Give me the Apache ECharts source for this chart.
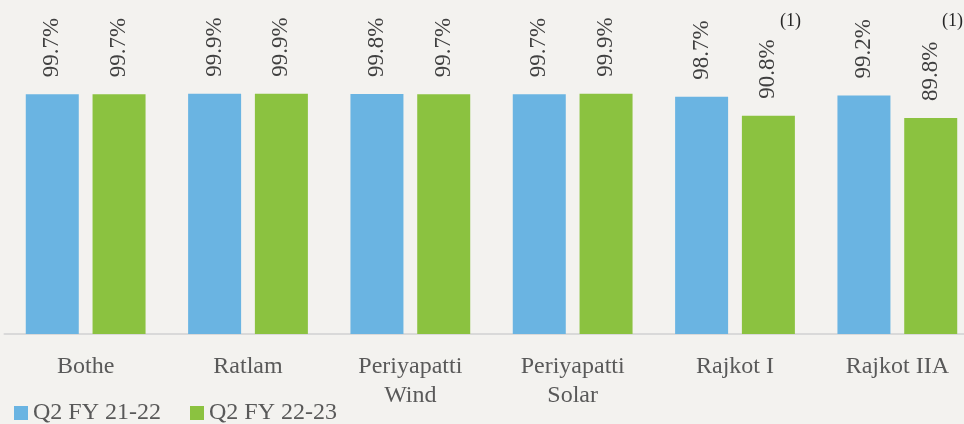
<!DOCTYPE html>
<html><head><meta charset="utf-8">
<script src="https://cdn.jsdelivr.net/npm/echarts@6/dist/echarts.min.js"></script>
<style>html,body{margin:0;padding:0;background:#f3f2ef;}#c{width:964px;height:424px;}</style>
</head><body><div id="c"></div>
<script>
const categories = ['Bothe', 'Ratlam', 'Periyapatti\nWind', 'Periyapatti\nSolar', 'Rajkot I', 'Rajkot IIA'];
const seriesNames = ['Q2 FY 21-22', 'Q2 FY 22-23'];
const q2fy2122 = [99.7, 99.9, 99.8, 99.7, 98.7, 99.2];
const q2fy2223 = [99.7, 99.9, 99.7, 99.9, 90.8, 89.8];
const footnote = '(1)';

const font = '"Liberation Serif", "DejaVu Serif", serif';
const chart = echarts.init(document.getElementById('c'), null, {renderer: 'canvas'});
const labelCfg = {
  show: true, position: 'top', rotate: 90, align: 'left', verticalAlign: 'middle',
  distance: 17, fontFamily: font, fontSize: 23, color: '#404040',
  formatter: p => p.value.toFixed(1) + '%'
};
chart.setOption({
  backgroundColor: '#f3f2ef',
  animation: false,
  grid: {left: 4.5, width: 974, top: 93.6, height: 240.4, containLabel: false, outerBoundsMode: 'none'},
  legend: {
    left: 14, top: 401, padding: 0, itemWidth: 14, itemHeight: 14, itemGap: 29,
    icon: 'rect', data: seriesNames,
    textStyle: {fontFamily: font, fontSize: 24, color: '#595959'}
  },
  xAxis: {
    type: 'category', data: categories,
    axisLine: {show: true, lineStyle: {color: '#d9d9d9', width: 2}},
    axisTick: {show: false},
    axisLabel: {fontFamily: font, fontSize: 24, color: '#595959', margin: 18, lineHeight: 29, interval: 0, hideOverlap: false}
  },
  yAxis: {type: 'value', min: 0, max: 100, show: false, splitLine: {show: false}},
  series: [
    {name: seriesNames[0], type: 'bar', data: q2fy2122, barWidth: 53, barGap: '26%',
     itemStyle: {color: '#6ab4e2'}, label: labelCfg},
    {name: seriesNames[1], type: 'bar', data: q2fy2223, barWidth: 53, barGap: '26%',
     itemStyle: {color: '#8bc240'}, label: labelCfg}
  ],
  graphic: [
    {type: 'text', left: 780, top: 12, style: {text: footnote, font: '18px ' + font, fill: '#262626'}},
    {type: 'text', left: 942, top: 12, style: {text: footnote, font: '18px ' + font, fill: '#262626'}}
  ]
});
</script></body></html>
